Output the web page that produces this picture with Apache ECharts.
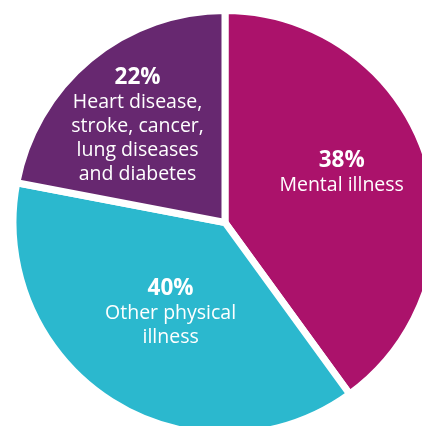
<!DOCTYPE html>
<html>
<head>
<meta charset="utf-8">
<style>
  html, body { margin: 0; padding: 0; background: #ffffff; }
  #chart { width: 422px; height: 426px; }
</style>
<script src="https://cdn.jsdelivr.net/npm/echarts@6/dist/echarts.min.js"></script>
</head>
<body>
<div id="chart"></div>
<script>
// Category names as printed in the slices
var categories = [
  "Mental illness",
  "Other physical\nillness",
  "Heart disease,\nstroke, cancer,\nlung diseases\nand diabetes"
];
// Percentages as printed in the labels
var labelPercents = [38, 40, 22];
// Angular share of each slice as drawn in the picture (measured from the slice boundaries)
var sliceShares = [40, 38, 22];
var colors = ["#ab126b", "#2bb8ce", "#672870"];

// Label nudges relative to the library's inside label position (style only)
var labelNudges = [[13, -16], [4, -2], [-18, -13]];

var data = categories.map(function (name, i) {
  return { name: name, value: sliceShares[i], itemStyle: { color: colors[i] } };
});

var chart = echarts.init(document.getElementById('chart'), null, { renderer: 'canvas' });
chart.setOption({
  animation: false,
  backgroundColor: '#ffffff',
  series: [{
    type: 'pie',
    center: [225, 222.5],
    radius: 212,
    startAngle: 90,
    clockwise: true,
    silent: true,
    data: data,
    itemStyle: { borderColor: '#ffffff', borderWidth: 7 },
    label: {
      show: true,
      position: 'inside',
      color: '#ffffff',
      fontFamily: 'Open Sans',
      textBorderWidth: 0,
      formatter: function (p) {
        return '{p|' + labelPercents[p.dataIndex] + '%}\n{t|' + p.name.split('\n').join('}\n{t|') + '}';
      },
      rich: {
        p: { fontFamily: 'Open Sans', fontSize: 22.5, fontWeight: 'bold', lineHeight: 26, color: '#ffffff', align: 'center' },
        t: { fontFamily: 'Open Sans', fontSize: 19.5, lineHeight: 24, color: '#ffffff', align: 'center' }
      }
    },
    labelLine: { show: false },
    labelLayout: function (params) {
      var n = labelNudges[params.dataIndex];
      return { dx: n[0], dy: n[1] };
    }
  }]
});
</script>
</body>
</html>
